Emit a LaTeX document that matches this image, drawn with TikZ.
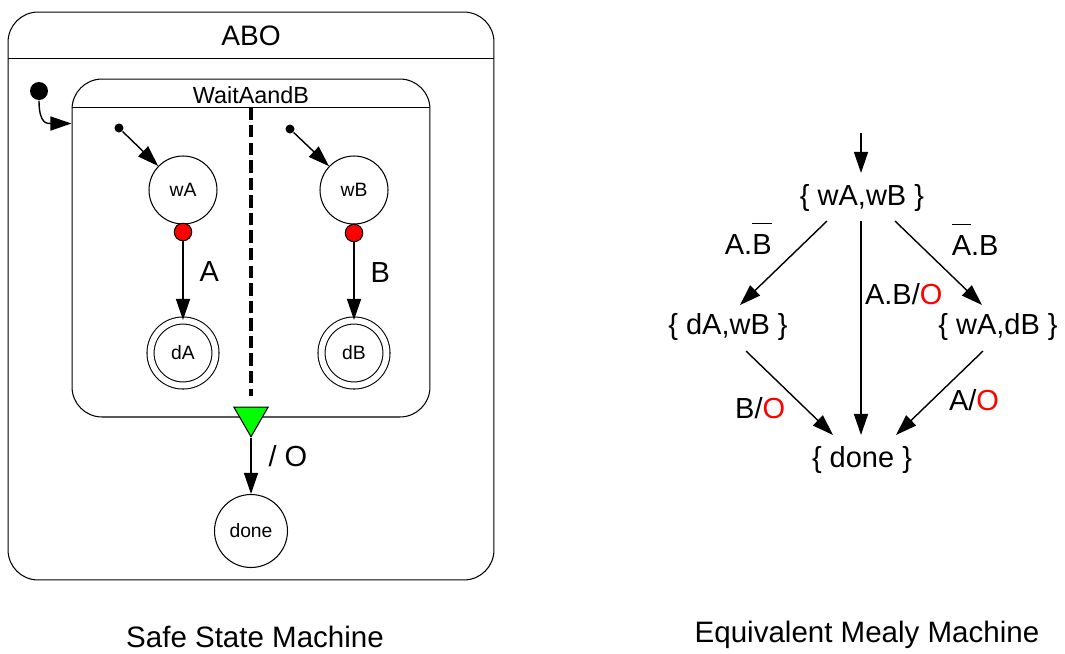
\documentclass[tikz,border=0pt]{standalone}
\usepackage{fontspec}
\setmainfont{Liberation Sans}
\usepackage{tikz}
\usetikzlibrary{calc}
\usetikzlibrary{arrows.meta, shapes.geometric}
\definecolor{trigreen}{RGB}{0,255,0}
\newcommand{\negsig}[1]{$\overline{\mbox{#1\rule{0pt}{0.98em}}}$}

\begin{document}
\begin{tikzpicture}[x=0.02cm, y=-0.02cm, >={Triangle[length=12pt,width=8pt]}, line width=0.6pt,
  state/.style={circle, draw, minimum size=1.36cm, inner sep=0pt, font=\fontsize{11}{13}\selectfont},
  final/.style={state, double, double distance=3.4pt, minimum size=1.3cm},
  box/.style={draw, rounded corners=0.6cm, inner sep=0pt},
  dot/.style={circle, fill, inner sep=0pt},
  exitpt/.style={circle, draw, fill=red, minimum size=0.35cm, inner sep=0pt},
  trans/.style={->, line width=0.8pt},
  fork/.style={line width=1.8pt, dash pattern=on 7pt off 3pt},
  lab/.style={font=\fontsize{16.5}{19}\selectfont},
  mealy/.style={font=\fontsize{16.5}{19}\selectfont, inner sep=2pt}]
  \useasboundingbox (0,0) rectangle (1065,653);

  % safe state machine
  \node[box, minimum width=9.72cm, minimum height=11.36cm] (abo) at (251,296) {};
  \node[font=\fontsize{16}{19}\selectfont] (abotitle) at (251,36) {ABO};
  \draw ($(abo.north west)+(0,47)$) -- ($(abo.north east)+(0,47)$);

  \node[box, minimum width=7.16cm, minimum height=6.76cm] (wait) at (251,248) {};
  \node[font=\fontsize{13.3}{15}\selectfont] (waittitle) at (251,95) {WaitAandB};
  \draw ($(wait.north west)+(0,29)$) -- ($(wait.north east)+(0,29)$);

  \node[dot, minimum size=0.36cm] (init) at (39,91) {};
  \coordinate (entry) at ($(wait.north west)+(0,45)$);
  \draw[trans] (init.south) .. controls +(0,24) and +(-24,0) .. (entry);

  \node[dot, minimum size=0.18cm] (iA) at (119,128) {};
  \node[dot, minimum size=0.18cm] (iB) at (290,129) {};
  \node[state] (wA) at (183,190) {wA};
  \node[state] (wB) at (354,190) {wB};
  \node[exitpt] (pA) at (183,232) {};
  \node[exitpt] (pB) at (354,233) {};
  \node[final] (dA) at (183,353) {dA};
  \node[final] (dB) at (354,353) {dB};

  \draw[trans] (iA) -- (wA);
  \draw[trans] (iB) -- (wB);
  \path[trans]
        (pA) edge node[lab, pos=0.39, right=0.2cm] {A} (dA)
        (pB) edge node[lab, pos=0.39, right=0.2cm] {B} (dB)
        ;

  \node[regular polygon, regular polygon sides=3, shape border rotate=180, draw, fill=trigreen,
        minimum size=0.79cm, inner sep=0pt] (trig) at (251,417) {};
  \coordinate (forktop) at ($(wait.north)+(0,29)$);
  \coordinate (forkbot) at ($(trig.north)+(0,-11)$);
  \draw[fork] (forktop) -- (forkbot);

  \node[state, minimum size=1.46cm] (done) at (251,531) {done};
  \path[trans] (trig.south) edge node[lab, pos=0.32, right=0.22cm] {/ O} (done);

  \node[font=\fontsize{16.8}{19}\selectfont] (cap1) at (255,637) {Safe State Machine};

  % equivalent mealy machine
  \node[mealy] (wawb) at (862,198) {\{ wA,wB \}};
  \node[mealy] (dawb) at (728,327) {\{ dA,wB \}};
  \node[mealy] (wadb) at (998,327) {\{ wA,dB \}};
  \node[mealy] (fin) at (862,460) {\{ done \}};
  \coordinate (start) at (861,133);

  \draw[trans] (start) -- ($(wawb)+(-1,-25)$);
  \draw[trans] ($(wawb)+(-35,23)$) -- node[lab, pos=0.28, left=0.49cm, yshift=0.12cm] {A.\negsig{B}} ($(dawb)+(12,-22)$);
  \draw[trans] ($(wawb)+(-1,23)$) -- node[lab, pos=0.34, right=-0.05cm] {A.B/\textcolor{red}{O}} ($(fin)+(-1,-25)$);
  \draw[trans] ($(wawb)+(33,23)$) -- node[lab, pos=0.29, right=0.5cm, yshift=0.12cm] {\negsig{A}.B} ($(wadb)+(-16,-22)$);
  \draw[trans] ($(dawb)+(18,24)$) -- node[lab, pos=0.68, left=0.27cm] {B/\textcolor{red}{O}} ($(fin)+(-29,-25)$);
  \draw[trans] ($(wadb)+(-15,24)$) -- node[lab, pos=0.58, right=0.2cm] {A/\textcolor{red}{O}} ($(fin)+(34,-25)$);

  \node[font=\fontsize{16.8}{19}\selectfont] (cap2) at (867,635) {Equivalent Mealy Machine};
\end{tikzpicture}
\end{document}
